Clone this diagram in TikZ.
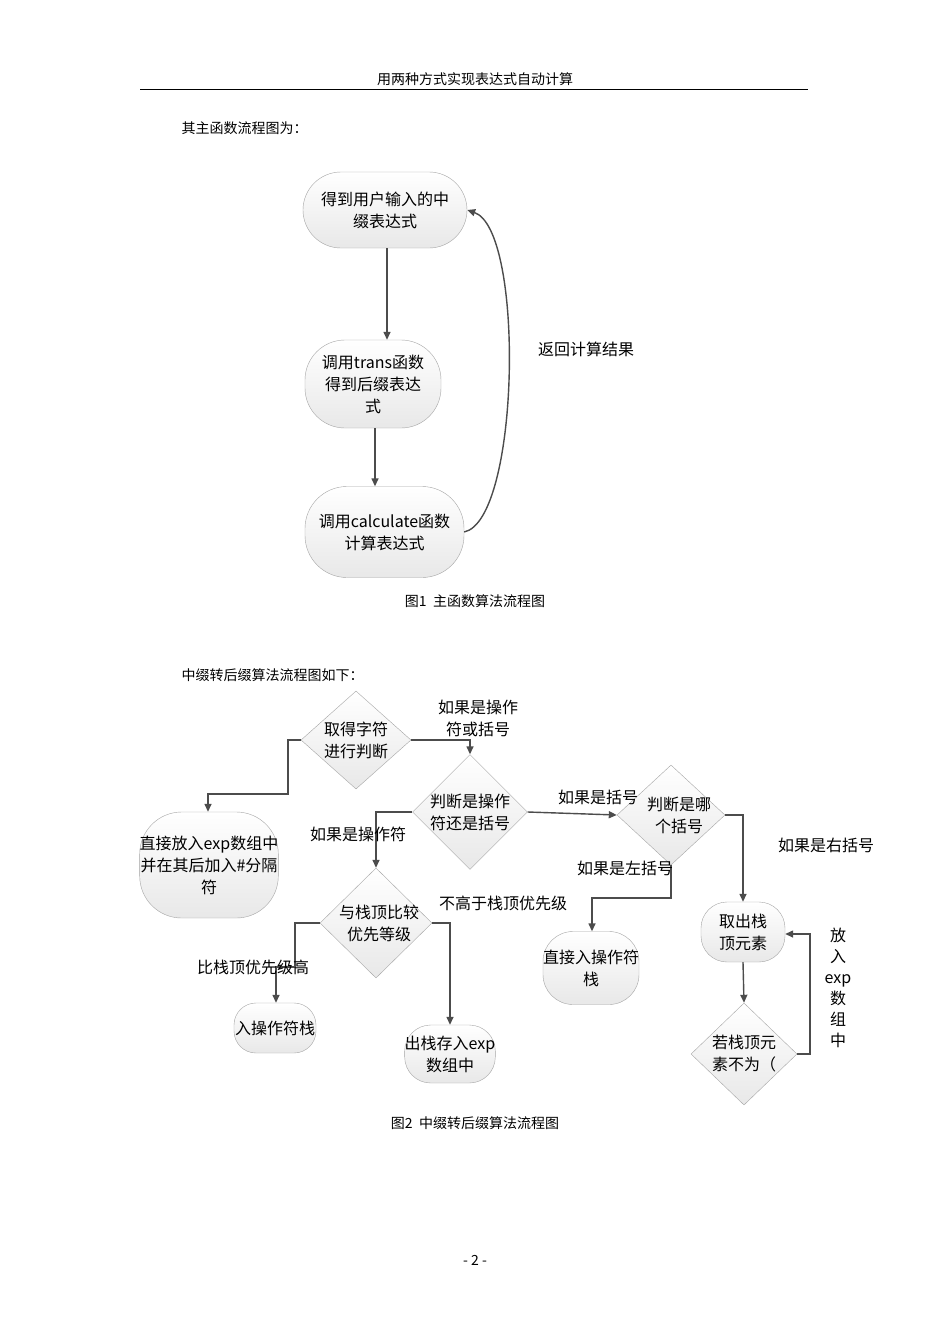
\documentclass[tikz,border=0pt]{standalone}
\usepackage{fontspec}
\setmainfont{Noto Sans CJK SC}
\usetikzlibrary{shapes.geometric,arrows.meta}
\tikzset{
  stad/.style={draw=gray!70,rounded corners=#1,top color=white,bottom color=gray!18,inner sep=0pt,align=center,font=\fontsize{16}{22}\selectfont},
  dia/.style 2 args={diamond,draw=gray!70,top color=white,bottom color=gray!18,inner sep=0pt,minimum width=#1,minimum height=#2},
  dtxt/.style={align=center,font=\fontsize{16}{22}\selectfont},
  lbl/.style={align=center,font=\fontsize{16}{22}\selectfont},
  pg/.style={font=\fontsize{14}{18}\selectfont},
  con/.style={draw=black!70,line width=1.4pt,-{Triangle[length=8pt,width=7pt]}}
}
\begin{document}
\begin{tikzpicture}[x=1pt,y=-1pt]
\useasboundingbox[fill=white] (0,0) rectangle (950,1344);
\node[pg] (hd) at (475,79) {用两种方式实现表达式自动计算};
\draw[line width=1pt] (140,89) -- (808,89);
\node[pg,anchor=west] (t1) at (178,128) {其主函数流程图为：};
% figure 1
\node[stad=38pt,minimum width=164pt,minimum height=76pt] (a) at (385,210) {得到用户输入的中\\缀表达式};
\node[stad=40pt,minimum width=136pt,minimum height=88pt] (b) at (373,384) {调用trans函数\\得到后缀表达\\式};
\node[stad=42pt,minimum width=159pt,minimum height=91pt] (c) at (384.5,532) {调用calculate函数\\计算表达式};
\draw[con] (a.south -| 387,0) -- (b.north -| 387,0);
\draw[con] (b.south -| 375,0) -- (c.north -| 375,0);
\draw[con] (c.east) .. controls (520,520) and (525,230) .. (a.east);
\node[lbl] (r) at (586,349) {返回计算结果};
\node[pg] (cap1) at (475,601) {图1\ \ 主函数算法流程图};
\node[pg,anchor=west] (t2) at (178,675) {中缀转后缀算法流程图如下：};
% figure 2
\node[dia={110pt}{98pt},label={[dtxt]center:取得字符\\进行判断}] (d1) at (356,740) {};
\node[dia={115pt}{115pt},label={[dtxt]center:判断是操作\\符还是括号}] (d2) at (470,812) {};
\node[dia={108pt}{100pt},label={[dtxt,xshift=8pt]center:判断是哪\\个括号}] (d3) at (671,815) {};
\node[dia={112pt}{110pt},label={[dtxt,xshift=3pt]center:与栈顶比较\\优先等级}] (d4) at (376,923) {};
\node[dia={106pt}{102pt},label={[dtxt]center:若栈顶元\\素不为（}] (d5) at (744,1054) {};
\node[stad=42pt,minimum width=126pt,minimum height=106pt] (e) at (209,865) {直接放入exp数组中\\并在其后加入\#分隔\\符};
\node[stad=22pt,minimum width=82pt,minimum height=50pt] (f) at (275,1028) {入操作符栈};
\node[stad=26pt,minimum width=84pt,minimum height=58pt] (g) at (450,1054) {出栈存入exp\\数组中};
\node[stad=30pt,minimum width=84pt,minimum height=73pt] (h) at (591,968) {直接入操作符\\栈};
\node[stad=26pt,minimum width=84pt,minimum height=60pt] (i) at (743,932) {取出栈\\顶元素};
\draw[con] (d1.west) -- (288,740) -- (288,794) -- (208,794) -- (e.north -| 208,0);
\draw[con] (d1.east) -- (470,740) -- (d2.north);
\draw[con] (d2.west) -- (376,812) -- (d4.north);
\draw[con] (d2.east) -- (d3.west);
\draw[con] (d3.east) -- (743,815) -- (i.north -| 743,0);
\draw[con] (d3.south) -- (671,898) -- (592,898) -- (h.north -| 592,0);
\draw[con] (d4.west) -- (295,923) -- (295,967) -- (276,967) -- (f.north -| 276,0);
\draw[con] (d4.east) -- (450,923) -- (g.north);
\draw[con] (i.south -| 743,0) -- (d5.north);
\draw[con] (d5.east) -- (810,1054) -- (810,934) -- (i.east |- 0,934);
\node[lbl] (l1) at (478,718) {如果是操作\\符或括号};
\node[lbl] (l2) at (358,834) {如果是操作符};
\node[lbl] (l3) at (598,797) {如果是括号};
\node[lbl] (l4) at (826,845) {如果是右括号};
\node[lbl] (l5) at (625,868) {如果是左括号};
\node[lbl] (l6) at (253,967) {比栈顶优先级高};
\node[lbl] (l7) at (503,903) {不高于栈顶优先级};
\node[lbl,font=\fontsize{16}{21}\selectfont] (l8) at (838,988) {放\\入\\exp\\数\\组\\中};
\node[pg] (cap2) at (475,1123) {图2\ \ 中缀转后缀算法流程图};
\node[pg] (ft) at (475,1260) {- 2 -};
\end{tikzpicture}
\end{document}
